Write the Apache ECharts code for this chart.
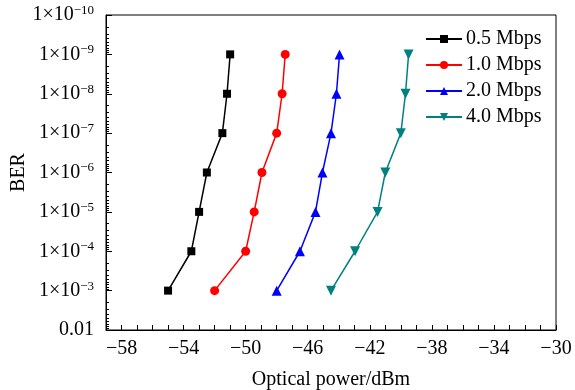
<!DOCTYPE html>
<html><head><meta charset="utf-8">
<script src="https://cdn.jsdelivr.net/npm/echarts@6/dist/echarts.min.js"></script>
<style>html,body{margin:0;padding:0;background:#fff}#c{width:575px;height:390px}</style>
</head><body><div id="c"></div>
<script>
var berLevels = [1e-3, 1e-4, 1e-5, 1e-6, 1e-7, 1e-8, 1e-9];
var power05 = [-55.0, -53.5, -53.0, -52.5, -51.5, -51.2, -51.0];
var power10 = [-52.0, -50.0, -49.45, -48.95, -48.0, -47.65, -47.45];
var power20 = [-48.0, -46.5, -45.5, -45.05, -44.5, -44.15, -43.95];
var power40 = [-44.5, -42.95, -41.5, -41.0, -40.0, -39.7, -39.5];
var seriesNames = ['0.5 Mbps', '1.0 Mbps', '2.0 Mbps', '4.0 Mbps'];
var seriesColors = ['#000000', '#ff0000', '#0000ff', '#008080'];
var symbols = ['rect', 'circle', 'triangle', 'triangle'];
var symbolRot = [0, 0, 0, 180];
var symbolSizes = [8, 9, 10, 10];
var xMajorTicks = [-58, -54, -50, -46, -42, -38, -34, -30];

var FONT = 'Liberation Serif';
function zip(xs){ return xs.map(function(x,i){ return [x, berLevels[i]]; }); }
var allX = [power05, power10, power20, power40];
var chart = echarts.init(document.getElementById('c'), null, {renderer:'canvas'});
chart.setOption({
  animation: false,
  backgroundColor: '#fff',
  grid: {left: 106, right: 19, top: 15, bottom: 60, show: true, borderColor: '#000', borderWidth: 1,
         containLabel: false, outerBoundsMode: 'none'},
  legend: {
    orient: 'vertical', left: 425, top: 29, padding: 0,
    itemWidth: 36, itemHeight: 10, itemGap: 6,
    textStyle: {fontFamily: FONT, fontSize: 20, color: '#000', padding: [0,0,0,-1]},
    data: seriesNames
  },
  xAxis: {
    type: 'value', min: -59, max: -30, interval: 1,
    name: 'Optical power/dBm', nameLocation: 'middle', nameGap: 40, nameMoveOverlap: false,
    nameTextStyle: {fontFamily: FONT, fontSize: 20, color: '#000'},
    axisLine: {lineStyle: {color: '#000', width: 1}},
    axisTick: {inside: true, length: 5, lineStyle: {color: '#000'}},
    splitLine: {show: false},
    axisLabel: {
      interval: 0, margin: 9, fontFamily: FONT, fontSize: 20, color: '#000',
      formatter: function(v){ return xMajorTicks.indexOf(v) >= 0 ? String(v).replace('-', '\u2212') : ''; }
    }
  },
  yAxis: {
    type: 'log', logBase: 10, min: 1e-10, max: 1e-2, inverse: true,
    name: 'BER', nameLocation: 'middle', nameGap: 77, nameRotate: 90, nameMoveOverlap: false,
    nameTextStyle: {fontFamily: FONT, fontSize: 20, color: '#000'},
    axisLine: {lineStyle: {color: '#000', width: 1}},
    axisTick: {inside: true, length: 6, lineStyle: {color: '#000'}},
    minorTick: {show: true, splitNumber: 9, length: 3, lineStyle: {color: '#000'}},
    splitLine: {show: false},
    axisLabel: {
      margin: 12, fontFamily: FONT, fontSize: 20, color: '#000',
      formatter: function(v){
        var e = Math.round(Math.log10(v));
        if (e === -2) return '{a|0.01}';
        return '{a|1\u00d710}{b|\u2212' + (-e) + '}';
      },
      rich: {
        a: {fontFamily: FONT, fontSize: 20, color: '#000', lineHeight: 22},
        b: {fontFamily: FONT, fontSize: 13, color: '#000', verticalAlign: 'top', lineHeight: 12}
      }
    }
  },
  series: seriesNames.map(function(n, i){
    return {
      name: n, type: 'line', data: zip(allX[i]),
      symbol: symbols[i], symbolRotate: symbolRot[i], symbolSize: symbolSizes[i],
      color: seriesColors[i],
      lineStyle: {color: seriesColors[i], width: 1.5},
      itemStyle: {color: seriesColors[i]}
    };
  })
});
</script></body></html>
